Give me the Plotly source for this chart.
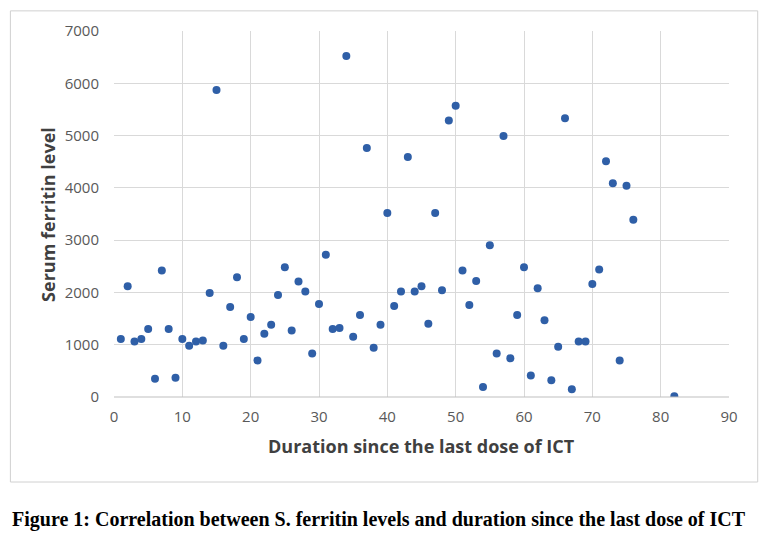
import plotly.graph_objects as go

duration = list(range(1, 77)) + [82]
ferritin = [
    1110, 2120, 1060, 1110, 1300, 350, 2420, 1300, 370, 1110,
    980, 1060, 1080, 1990, 5870, 980, 1720, 2290, 1110, 1530,
    700, 1210, 1380, 1950, 2480, 1270, 2210, 2020, 830, 1780,
    2720, 1300, 1320, 6520, 1150, 1570, 4760, 940, 1380, 3520,
    1740, 2020, 4590, 2020, 2120, 1400, 3520, 2040, 5290, 5570,
    2420, 1760, 2220, 190, 2900, 830, 4990, 740, 1570, 2480,
    410, 2080, 1470, 320, 960, 5330, 150, 1060, 1060, 2160,
    2440, 4510, 4090, 700, 4040, 3390, 15,
]
x_ticks = [0, 10, 20, 30, 40, 50, 60, 70, 80, 90]
y_ticks = [0, 1000, 2000, 3000, 4000, 5000, 6000, 7000]

x_title = "Duration since the last dose of ICT"
y_title = "Serum ferritin level"
caption = "Figure 1: Correlation between S. ferritin levels and duration since the last dose of ICT"

fig = go.Figure()
fig.add_trace(go.Scatter(
    x=duration, y=ferritin, mode="markers",
    marker=dict(size=8, color="#2f5fa7"),
    showlegend=False,
))

OFF = 8  # page body margin
L, R, T, B = 114.3 - OFF, 729.3 - OFF, 28.3 - OFF, 397.3 - OFF
W, H = 767 - 2 * OFF, 545 - 2 * OFF
pw, ph = R - L, B - T

def px_x(v):
    return (v - OFF - L) / pw

def px_y(v):
    return (B - (v - OFF)) / ph

fig.update_layout(
    width=W, height=H,
    margin=dict(l=L, r=W - R, t=T, b=H - B, pad=0),
    paper_bgcolor="white", plot_bgcolor="white",
    font=dict(family="Open Sans, sans-serif", color="#595959"),
    xaxis=dict(
        range=[0, 90], tickvals=x_ticks, showgrid=True, gridcolor="#d9d9d9",
        gridwidth=1, zeroline=False, showline=False,
        tickfont=dict(size=15, color="#595959"), ticks="", ticklabelstandoff=9,
    ),
    yaxis=dict(
        range=[0, 7000], tickvals=y_ticks, showgrid=True, gridcolor="#d9d9d9",
        gridwidth=1, zeroline=False, showline=False,
        tickfont=dict(size=15, color="#595959"), ticks="", ticklabelstandoff=14,
    ),
    shapes=[
        dict(type="rect", xref="paper", yref="paper",
             x0=px_x(10.7), x1=px_x(758), y0=px_y(483), y1=px_y(8),
             line=dict(color="#d0d0d0", width=1), fillcolor="rgba(0,0,0,0)", layer="below"),
        dict(type="line", xref="paper", yref="paper", x0=0, x1=1, y0=0, y1=0,
             line=dict(color="#bfbfbf", width=1)),
    ],
    annotations=[
        dict(text=x_title, xref="paper", yref="paper", x=px_x(422), y=px_y(447),
             xanchor="center", yanchor="middle", showarrow=False,
             font=dict(size=18, color="#404040", family="Open Sans, sans-serif", weight="bold")),
        dict(text=y_title, xref="paper", yref="paper", x=px_x(48), y=px_y(213),
             xanchor="center", yanchor="middle", showarrow=False, textangle=-90,
             font=dict(size=18, color="#404040", family="Open Sans, sans-serif", weight="bold")),
        dict(text="<b>" + caption + "</b>", xref="paper", yref="paper", x=px_x(379), y=px_y(521),
             xanchor="center", yanchor="middle", showarrow=False,
             font=dict(size=20, color="black", family="Liberation Serif, serif")),
    ],
)

fig.write_html("out.html")
